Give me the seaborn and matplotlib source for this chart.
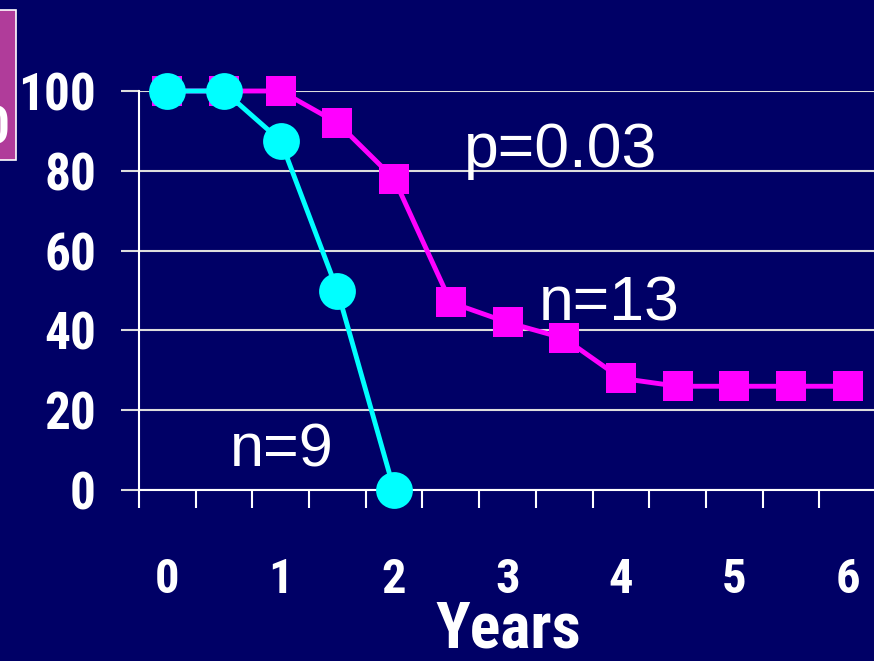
import matplotlib
matplotlib.use("Agg")
import matplotlib.pyplot as plt
from matplotlib import font_manager
from matplotlib.patches import Rectangle
import pandas as pd
import seaborn as sns

# Survival data (percent alive) by follow-up year
years_a = [0, 0.5, 1, 1.5, 2, 2.5, 3, 3.5, 4, 4.5, 5, 5.5, 6]
surv_a = [100, 100, 100, 92, 78, 47, 42, 38, 28, 26, 26, 26, 26]   # n=13
years_b = [0, 0.5, 1, 1.5, 2]
surv_b = [100, 100, 87.5, 50, 0]                                      # n=9

y_ticks = [0, 20, 40, 60, 80, 100]
x_ticks = [0, 1, 2, 3, 4, 5, 6]

BG = "#000066"
MAGENTA = "#FF00FF"
CYAN = "#00FFFF"

sns.set_theme(style="white")
plt.rcParams["font.family"] = ["Liberation Sans", "DejaVu Sans"]

# bold axis text uses a condensed face when one is installed
names = {f.name for f in font_manager.fontManager.ttflist}
condensed = [n for n in ("Liberation Sans Narrow", "DejaVu Sans Condensed",
                         "Roboto Condensed", "Open Sans Condensed") if n in names]
if condensed:
    axis_font = [condensed[0], "DejaVu Sans"]
    ysize, xsize, lsize = 37, 35, 46
else:
    axis_font = ["Liberation Sans", "DejaVu Sans"]
    ysize, xsize, lsize = 34, 33, 40

df_a = pd.DataFrame({"year": years_a, "surv": surv_a})
df_b = pd.DataFrame({"year": years_b, "surv": surv_b})

fig = plt.figure(figsize=(8.74, 6.61), dpi=100, facecolor=BG)
ax = fig.add_axes([139 / 874, 171 / 661, 737 / 874, 399 / 661])
ax.set_facecolor(BG)

sns.lineplot(data=df_a, x="year", y="surv", ax=ax, color=MAGENTA, lw=3.5,
             marker="s", markersize=22, markeredgewidth=0, clip_on=False, zorder=3)
sns.lineplot(data=df_b, x="year", y="surv", ax=ax, color=CYAN, lw=3.5,
             marker="o", markersize=26.5, markeredgewidth=0, clip_on=False, zorder=4)

ax.set_xlim(-0.25, 6.25)
ax.set_ylim(0, 100)

# horizontal grid
ax.set_yticks(y_ticks)
ax.yaxis.grid(True, color="#DDDDDD", lw=1.5)
ax.xaxis.grid(False)
ax.set_axisbelow(True)

for side in ("top", "right"):
    ax.spines[side].set_visible(False)
for side in ("left", "bottom"):
    ax.spines[side].set_color("white")
    ax.spines[side].set_linewidth(1.5)

ax.tick_params(axis="y", which="major", direction="out", length=13, width=1.5,
               color="#DDDDDD", pad=18, left=True)
ax.set_yticklabels([str(v) for v in y_ticks], fontsize=ysize, fontweight="bold",
                   color="white", family=axis_font)

# category-style x axis: labels at whole years, tick marks between half-year slots
ax.set_xticks(x_ticks)
ax.set_xticks([-0.25 + 0.5 * k for k in range(14)], minor=True)
ax.tick_params(axis="x", which="major", length=0, pad=48)
ax.tick_params(axis="x", which="minor", direction="out", length=13, width=1.5,
               color="white", bottom=True)
ax.set_xticklabels([str(v) for v in x_ticks], fontsize=xsize, fontweight="bold",
                   color="white", family=axis_font)
ax.set_xlabel("")
ax.set_ylabel("")

fig.text(508 / 874, 0.5 / 661, "Years", ha="center", va="bottom", fontsize=lsize,
         fontweight="bold", color="white", family=axis_font)

# annotations
ax.text(2.62, 81, "p=0.03", fontsize=45, color="white", ha="left", va="baseline")
ax.text(3.28, 42.6, "n=13", fontsize=45, color="white", ha="left", va="baseline")
ax.text(0.55, 5.8, "n=9", fontsize=44, color="white", ha="left", va="baseline")

# side label box at the left edge
box = Rectangle((-10 / 874, 1 - 160 / 661), 26 / 874, 150 / 661,
                transform=fig.transFigure, facecolor="#B03C9A",
                edgecolor="white", lw=1.2, zorder=1)
fig.patches.append(box)
fig.text(9 / 874, 1 - 143 / 661, "0", ha="right", va="baseline", fontsize=ysize,
         fontweight="bold", color="white", family=axis_font, zorder=2)

fig.savefig("out.png", dpi=100, facecolor=BG)
